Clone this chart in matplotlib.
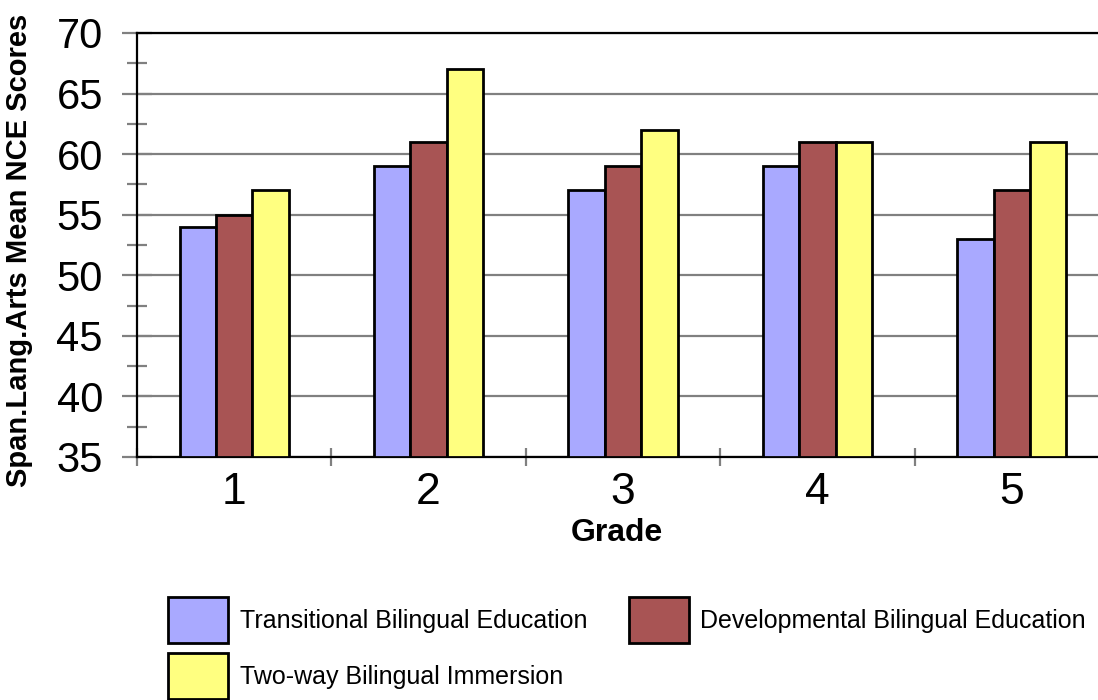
import matplotlib
matplotlib.use("Agg")
import matplotlib.pyplot as plt
import numpy as np
from matplotlib.patches import Patch

plt.rcParams["font.family"] = ["Liberation Sans", "DejaVu Sans"]

grades = ["1", "2", "3", "4", "5"]
series_names = ["Transitional Bilingual Education",
                "Developmental Bilingual Education",
                "Two-way Bilingual Immersion"]
transitional = [54, 59, 57, 59, 53]
developmental = [55, 61, 59, 61, 57]
two_way = [57, 67, 62, 61, 61]
colors = ["#A9A9FF", "#A85454", "#FFFF80"]

fig = plt.figure(figsize=(10.98, 7.0), dpi=100)
ax = fig.add_axes([137 / 1098, 1 - 457 / 700, 972 / 1098, 424 / 700])

x = np.arange(len(grades)) + 0.5
w = 0.187
for i, (vals, col) in enumerate(zip([transitional, developmental, two_way], colors)):
    ax.bar(x + (i - 1) * w, np.array(vals) - 35, width=w, bottom=35,
           color=col, edgecolor="black", linewidth=2.0, zorder=3)

ax.set_xlim(0, 5)
ax.set_ylim(35, 70)
ax.set_yticks(np.arange(35, 71, 5))
ax.set_yticks(np.arange(37.5, 70, 5), minor=True)
ax.set_xticks(x)
ax.set_xticklabels(grades)
ax.set_xticks(np.arange(0, 6), minor=True)

ax.yaxis.grid(True, color="#808080", linewidth=1.6, zorder=0)
ax.tick_params(axis="y", which="major", direction="inout", length=21, width=1.6,
               color="#808080", labelsize=30, pad=14)
ax.tick_params(axis="y", which="minor", direction="inout", length=15, width=1.6,
               color="#808080")
ax.tick_params(axis="x", which="major", length=0, labelsize=32, pad=11)
ax.tick_params(axis="x", which="minor", direction="inout", length=13, width=1.6,
               color="#808080")

for s in ["left", "bottom", "top"]:
    ax.spines[s].set_linewidth(1.6)
    ax.spines[s].set_color("black")
ax.spines["right"].set_visible(False)

ax.set_ylabel("Span.Lang.Arts Mean NCE Scores", fontsize=21, fontweight="bold")
ax.set_xlabel("Grade", fontsize=23, fontweight="bold")
ax.yaxis.set_label_coords(-0.107, 0.488)
ax.xaxis.set_label_coords((617 - 137) / 972, -0.145)

handles = [Patch(facecolor=c, edgecolor="black", linewidth=2.0) for c in colors]
order = [0, 2, 1]
fig.legend([handles[i] for i in order], [series_names[i] for i in order],
           loc="upper left", bbox_to_anchor=(168 / 1098, 1 - 597 / 700),
           ncol=2, frameon=False, fontsize=18, handlelength=2.4, handleheight=2.45,
           handletextpad=0.48, columnspacing=1.64, labelspacing=0.4, borderpad=0,
           borderaxespad=0)

fig.savefig("out.png", dpi=100)
